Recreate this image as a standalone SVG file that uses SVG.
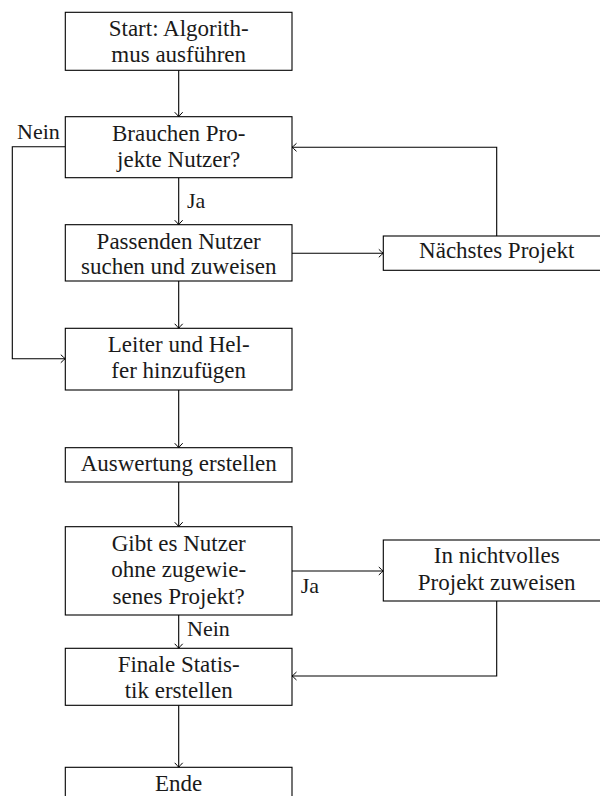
<svg xmlns="http://www.w3.org/2000/svg" width="600" height="796" viewBox="0 0 600 796">
<style>
.box{fill:#fff;stroke:#000;stroke-width:1.1}
text{font-family:'Liberation Serif','Times New Roman',serif;fill:#1a1a1a}
.t{font-size:23px;text-anchor:middle}
.l{font-size:22px}
.c{fill:none;stroke:#000;stroke-width:1.1;marker-end:url(#arr)}
</style>
<defs>
<marker id="arr" markerUnits="userSpaceOnUse" markerWidth="12" markerHeight="12" viewBox="-6 -6 12 12" refX="0" refY="0" orient="auto">
<path d="M -4.5 -4 Q -1.2 -0.8 0 0 Q -1.2 0.8 -4.5 4" fill="none" stroke="#000" stroke-width="1"/>
</marker>
</defs>
<g id="connectors">
<path class="c" d="M178.7 70.3 V116.7"/>
<path class="c" d="M178.7 177.7 V224.7"/>
<path class="c" d="M65.3 146.7 H12.3 V358.7 H65.3"/>
<path class="c" d="M292 253.3 H383.3"/>
<path class="c" d="M496.7 236 V147.3 H292"/>
<path class="c" d="M178.7 281 V328.3"/>
<path class="c" d="M178.7 390 V447.7"/>
<path class="c" d="M178.7 482 V526.7"/>
<path class="c" d="M292 571 H383.3"/>
<path class="c" d="M496.7 601 V676 H292"/>
<path class="c" d="M178.7 615 V648.3"/>
<path class="c" d="M178.7 705.3 V767.3"/>
<text class="l" font-family="Liberation Serif, serif" x="17" y="139.3">Nein</text>
<text class="l" font-family="Liberation Serif, serif" x="187" y="208">Ja</text>
<text class="l" font-family="Liberation Serif, serif" x="300.7" y="593.3">Ja</text>
<text class="l" font-family="Liberation Serif, serif" x="187" y="636">Nein</text>
</g>
<g id="start" font-family="Liberation Serif, serif">
<rect class="box" x="65.3" y="12.3" width="226.7" height="58"/>
<text class="t" x="178.7" y="36">Start: Algorith-</text>
<text class="t" x="178.7" y="61.7">mus ausführen</text>
</g>
<g id="brauchen">
<rect class="box" x="65.3" y="116.7" width="226.7" height="61"/>
<text class="t" x="178.7" y="141">Brauchen Pro-</text>
<text class="t" x="178.7" y="166.7">jekte Nutzer?</text>
</g>
<g id="passenden">
<rect class="box" x="65.3" y="224.7" width="226.7" height="56.3"/>
<text class="t" x="178.7" y="249">Passenden Nutzer</text>
<text class="t" x="178.7" y="274">suchen und zuweisen</text>
</g>
<g id="naechstes">
<rect class="box" x="383.3" y="236" width="226.7" height="34.3"/>
<text class="t" x="496.7" y="258.3">Nächstes Projekt</text>
</g>
<g id="leiter">
<rect class="box" x="65.3" y="328.3" width="226.7" height="61.7"/>
<text class="t" x="178.7" y="351.7">Leiter und Hel-</text>
<text class="t" x="178.7" y="378.3">fer hinzufügen</text>
</g>
<g id="auswertung">
<rect class="box" x="65.3" y="447.7" width="226.7" height="34.3"/>
<text class="t" x="178.7" y="470.7">Auswertung erstellen</text>
</g>
<g id="gibt">
<rect class="box" x="65.3" y="526.7" width="226.7" height="88.3"/>
<text class="t" x="178.7" y="550.7">Gibt es Nutzer</text>
<text class="t" x="178.7" y="577.3">ohne zugewie-</text>
<text class="t" x="178.7" y="603.7">senes Projekt?</text>
</g>
<g id="nichtvolles">
<rect class="box" x="383.3" y="540" width="226.7" height="61"/>
<text class="t" x="496.7" y="563.3">In nichtvolles</text>
<text class="t" x="496.7" y="590">Projekt zuweisen</text>
</g>
<g id="finale">
<rect class="box" x="65.3" y="648.3" width="226.7" height="57"/>
<text class="t" x="178.7" y="671.7">Finale Statis-</text>
<text class="t" x="178.7" y="697.7">tik erstellen</text>
</g>
<g id="ende">
<rect class="box" x="65.3" y="767.3" width="226.7" height="34.3"/>
<text class="t" x="178.7" y="790.7">Ende</text>
</g>
</svg>
